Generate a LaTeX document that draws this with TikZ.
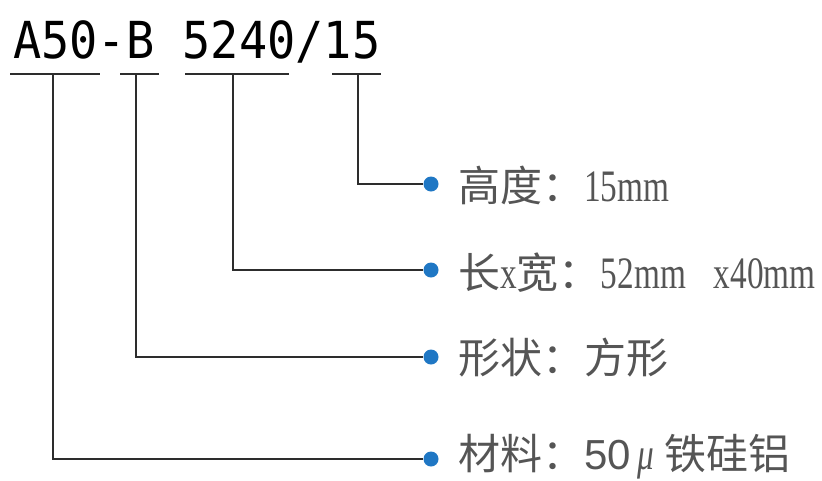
\documentclass[tikz,border=0pt]{standalone}
\usepackage{fontspec}
\setmainfont{Liberation Sans}
\newfontfamily\cjk{Noto Sans CJK SC}
\newfontfamily\codefont[FakeStretch=0.92]{DejaVu Sans Mono}
\newfontfamily\numfontface[FakeStretch=0.74]{Liberation Serif}
\newcommand{\numfont}{\numfontface\fontsize{45}{50}\selectfont}
\definecolor{dotblue}{RGB}{31,119,196}
\definecolor{txtgray}{RGB}{85,85,85}
\definecolor{linegray}{RGB}{45,45,45}
\begin{document}
\begin{tikzpicture}[x=1pt,y=-1pt,
  code/.style={anchor=base west,inner sep=0pt,text=black,font=\codefont\fontsize{51}{60}\selectfont},
  uline/.style={draw=linegray,line width=2.8pt},
  conn/.style={draw=linegray,line width=2.6pt},
  bdot/.style={circle,fill=dotblue,inner sep=0pt,minimum size=15pt},
  lbl/.style={anchor=base west,inner sep=0pt,text=txtgray,font=\cjk\fontsize{42}{48}\selectfont}]
\useasboundingbox (0,0) rectangle (822,480);
% code text
\node[code] (code) at (13,58) {A50-B 5240/15};
% underlines
\coordinate (ua1) at (10,74);  \coordinate (ua2) at (100,74);
\coordinate (ub1) at (120,74); \coordinate (ub2) at (159,74);
\coordinate (uc1) at (185,74); \coordinate (uc2) at (289,74);
\coordinate (ud1) at (332,74); \coordinate (ud2) at (381,74);
\draw[uline] (ua1) -- (ua2);
\draw[uline] (ub1) -- (ub2);
\draw[uline] (uc1) -- (uc2);
\draw[uline] (ud1) -- (ud2);
% vertical starts
\coordinate (va) at (53,74);
\coordinate (vb) at (136,74);
\coordinate (vc) at (233,74);
\coordinate (vd) at (358,74);
% dots
\node[bdot] (d1) at (431,184) {};
\node[bdot] (d2) at (431,270) {};
\node[bdot] (d3) at (431,357) {};
\node[bdot] (d4) at (431,459) {};
% connectors
\draw[conn] (vd) |- (d1);
\draw[conn] (vc) |- (d2);
\draw[conn] (vb) |- (d3);
\draw[conn] (va) |- (d4);
% labels
\node[lbl] (l1) at (458,201) {高度：{\numfont 15mm}};
\node[lbl] (l2) at (458,288) {长{\numfont x}宽：{\numfont 52mm\hspace{28pt}x40mm}};
\node[lbl] (l3) at (458,373) {形状：方形};
\node[lbl] (l4) at (458,469) {材料：{\rmfamily 50}\hspace{7pt}{\numfont\itshape μ}\hspace{10pt}铁硅铝};
\end{tikzpicture}
\end{document}
